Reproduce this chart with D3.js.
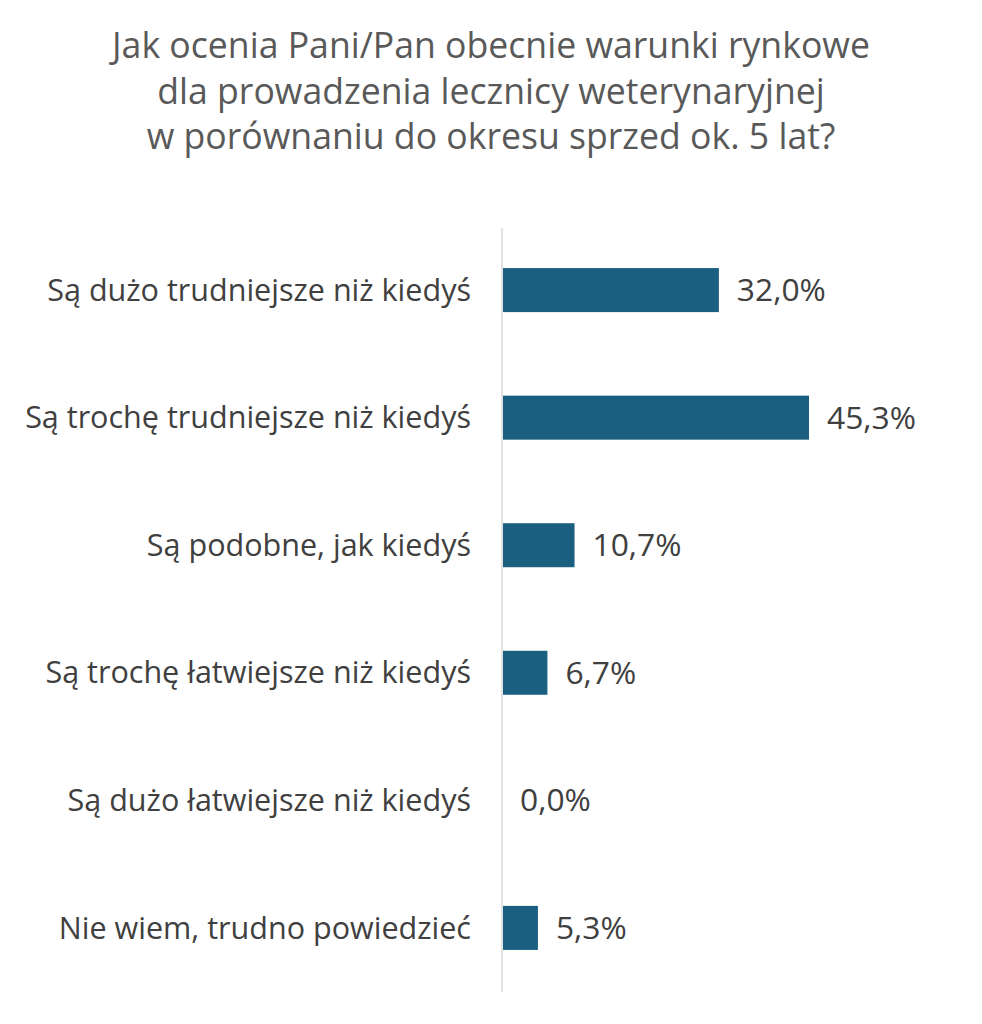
<!DOCTYPE html>
<html><head><meta charset="utf-8">
<script src="https://cdn.jsdelivr.net/npm/d3@7"></script>
<style>body{margin:0;background:#fff}</style></head>
<body><svg id="c" width="982" height="1024"></svg>
<script>
const titleLines = ["Jak ocenia Pani/Pan obecnie warunki rynkowe","dla prowadzenia lecznicy weterynaryjnej","w porównaniu do okresu sprzed ok. 5 lat?"];
const categories = ["Są dużo trudniejsze niż kiedyś","Są trochę trudniejsze niż kiedyś","Są podobne, jak kiedyś","Są trochę łatwiejsze niż kiedyś","Są dużo łatwiejsze niż kiedyś","Nie wiem, trudno powiedzieć"];
const values = [32.0,45.3,10.7,6.7,0.0,5.3];
const labels = ["32,0%","45,3%","10,7%","6,7%","0,0%","5,3%"];

const svg = d3.select("#c");
const font = "'Open Sans', sans-serif";
const x0 = 502;
const x = d3.scaleLinear().domain([0,45.3]).range([x0, 809]);
const y = d3.scaleBand().domain(categories).range([226, 992]).paddingInner(0.655).paddingOuter(0.33);

function fit(sel, target, base){
  const w = sel.nodes()[0].getComputedTextLength();
  sel.attr("font-size", base*target/w);
}

const t = svg.append("g").selectAll("text").data(titleLines).join("text")
  .attr("x",491).attr("y",(d,i)=>58+i*45.5).attr("text-anchor","middle")
  .attr("font-family",font).attr("font-size",29).attr("fill","#595959").text(d=>d);
fit(t, 758, 29);

svg.append("line").attr("x1",x0).attr("x2",x0).attr("y1",228).attr("y2",992)
  .attr("stroke","#d9d9d9").attr("stroke-width",1.5);

svg.append("g").selectAll("rect").data(values).join("rect")
  .attr("x",x0+1).attr("y",(d,i)=>y(categories[i])).attr("height",y.bandwidth())
  .attr("width",d=>Math.max(0,x(d)-x0-1)).attr("fill","#1a5f7f");

const c = svg.append("g").selectAll("text").data(categories).join("text")
  .attr("x",471).attr("y",d=>y(d)+y.bandwidth()/2).attr("dy","0.35em")
  .attr("text-anchor","end").attr("font-family",font).attr("font-size",23)
  .attr("fill","#404040").text(d=>d);
fit(c, 424, 23);

const v = svg.append("g").selectAll("text").data(values).join("text")
  .attr("x",d=>x(d)+18).attr("y",(d,i)=>y(categories[i])+y.bandwidth()/2).attr("dy","0.35em")
  .attr("font-family",font).attr("font-size",23).attr("fill","#404040").text((d,i)=>labels[i]);
fit(v, 89, 23);
</script></body></html>
